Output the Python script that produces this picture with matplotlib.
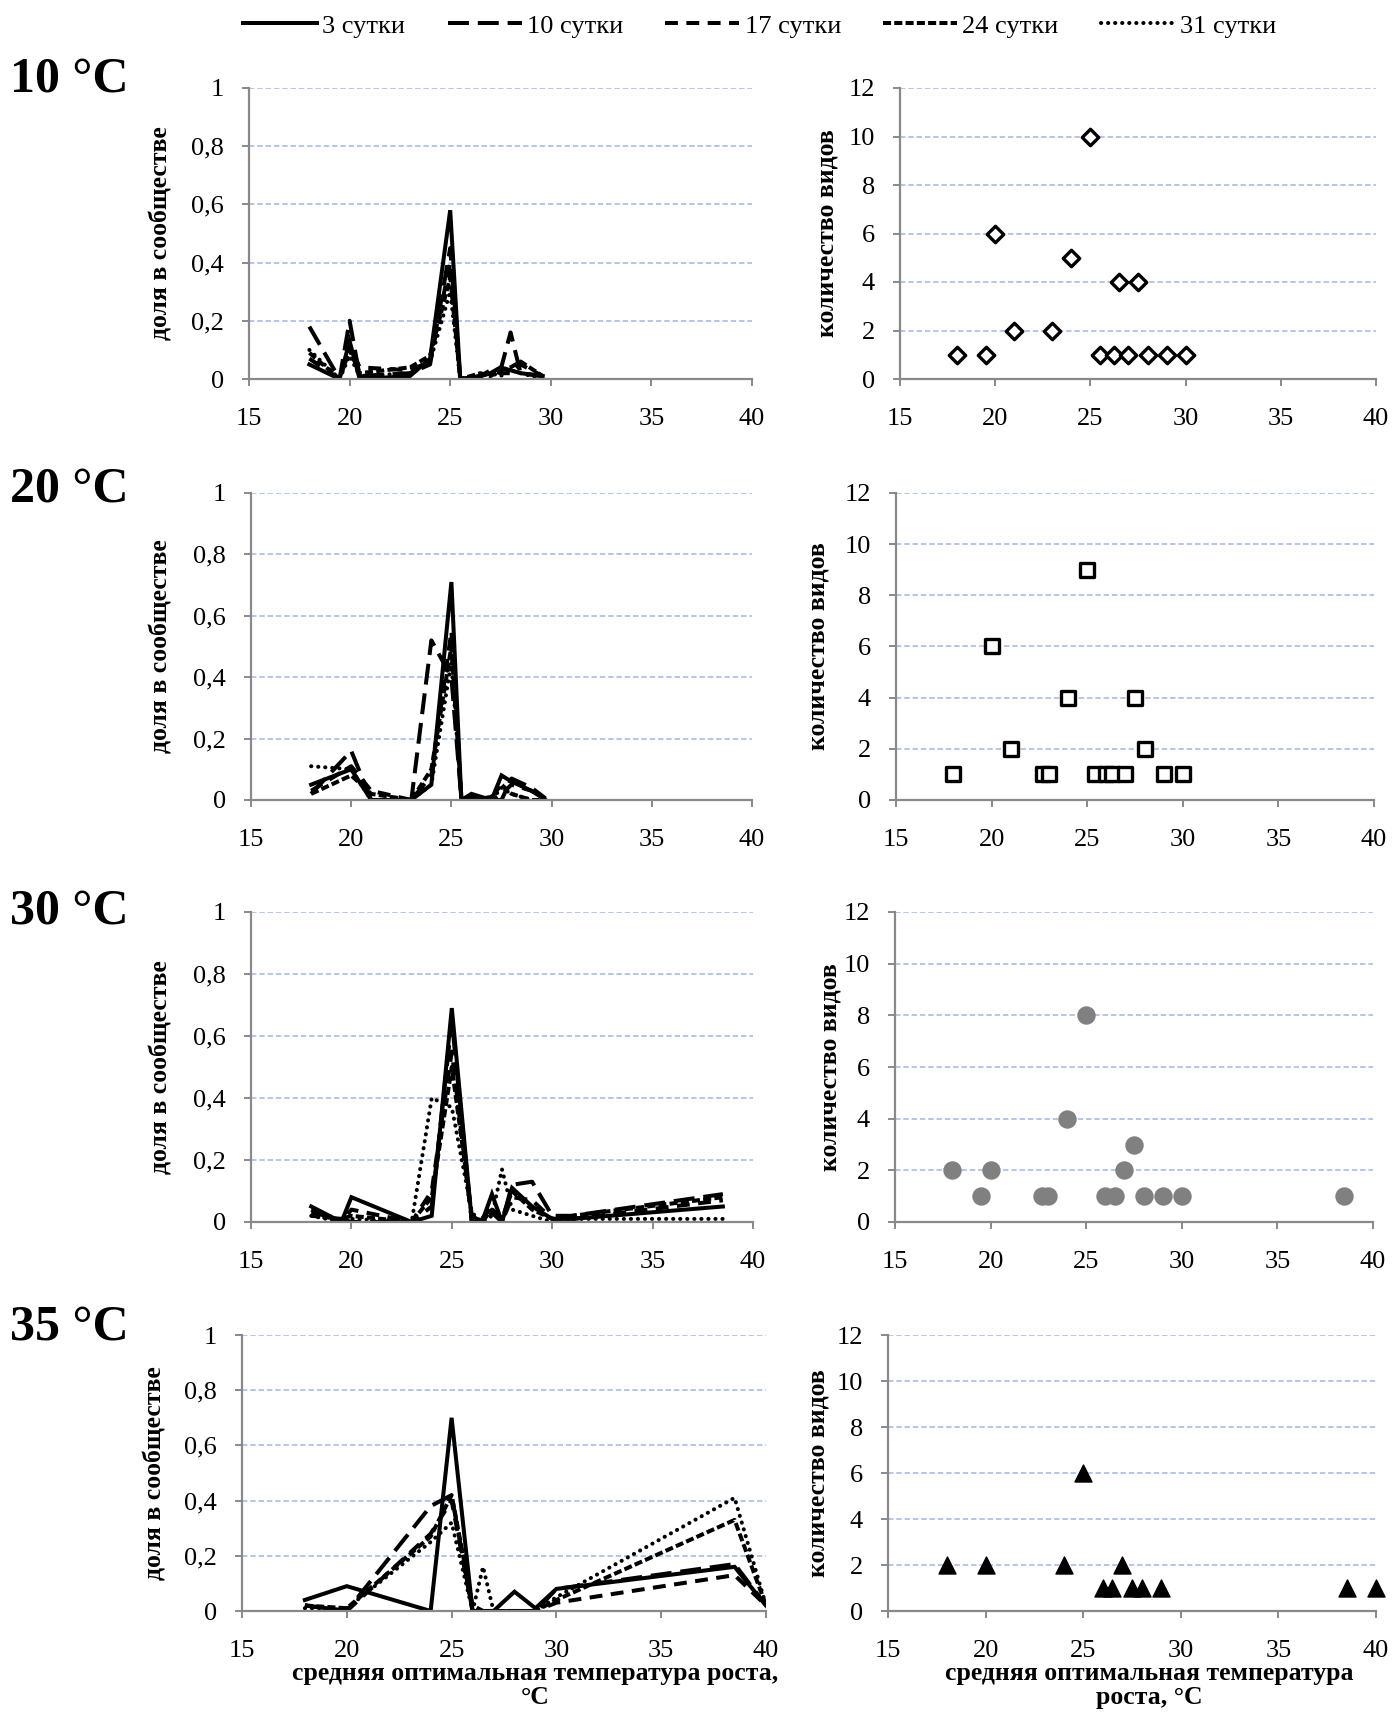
import matplotlib
matplotlib.use("Agg")
import matplotlib.pyplot as plt

plt.rcParams['font.family'] = ['Liberation Serif', 'DejaVu Serif']

# --- data -------------------------------------------------------------
series_names = ['3 сутки', '10 сутки', '17 сутки', '24 сутки', '31 сутки']
row_titles = ['10 °C', '20 °C', '30 °C', '35 °C']

# share in community (left column), x = mean optimal growth temperature
x_10 = [18, 19.5, 20, 20.5, 23, 24, 25, 25.5, 26.5, 27, 27.5, 28, 28.5, 29.6]
share_10 = [
    [0.05, 0.0, 0.13, 0.0, 0.01, 0.07, 0.58, 0.0, 0.01, 0.02, 0.04, 0.03, 0.02, 0.01],
    [0.18, 0.0, 0.20, 0.01, 0.02, 0.05, 0.45, 0.0, 0.01, 0.02, 0.03, 0.16, 0.02, 0.01],
    [0.07, 0.0, 0.12, 0.04, 0.03, 0.06, 0.40, 0.0, 0.01, 0.03, 0.02, 0.02, 0.05, 0.01],
    [0.09, 0.0, 0.10, 0.02, 0.04, 0.08, 0.35, 0.0, 0.02, 0.01, 0.03, 0.04, 0.06, 0.01],
    [0.10, 0.0, 0.08, 0.01, 0.02, 0.06, 0.30, 0.0, 0.01, 0.02, 0.01, 0.03, 0.02, 0.0],
]

x_20 = [18, 20, 21, 23, 24, 25, 25.5, 26, 27, 27.5, 28, 29, 29.7]
share_20 = [
    [0.05, 0.10, 0.0, 0.0, 0.05, 0.71, 0.0, 0.02, 0.0, 0.08, 0.06, 0.03, 0.0],
    [0.02, 0.16, 0.0, 0.0, 0.52, 0.40, 0.0, 0.0, 0.0, 0.0, 0.07, 0.04, 0.005],
    [0.03, 0.11, 0.03, 0.0, 0.08, 0.55, 0.0, 0.01, 0.0, 0.02, 0.05, 0.03, 0.0],
    [0.02, 0.08, 0.02, 0.0, 0.10, 0.50, 0.0, 0.0, 0.01, 0.05, 0.02, 0.0, 0.0],
    [0.11, 0.10, 0.0, 0.0, 0.05, 0.45, 0.0, 0.0, 0.0, 0.04, 0.02, 0.0, 0.0],
]

x_30 = [18, 19.5, 20, 23, 24, 25, 26, 26.5, 27, 27.5, 28, 29, 30, 31, 38.5]
share_30 = [
    [0.05, 0.0, 0.08, 0.0, 0.02, 0.69, 0.0, 0.0, 0.09, 0.0, 0.11, 0.05, 0.01, 0.01, 0.05],
    [0.03, 0.01, 0.0, 0.0, 0.05, 0.65, 0.0, 0.0, 0.03, 0.0, 0.12, 0.13, 0.02, 0.02, 0.09],
    [0.04, 0.0, 0.04, 0.0, 0.10, 0.55, 0.0, 0.01, 0.05, 0.0, 0.08, 0.07, 0.01, 0.01, 0.07],
    [0.02, 0.01, 0.02, 0.0, 0.08, 0.50, 0.02, 0.0, 0.04, 0.01, 0.10, 0.04, 0.01, 0.02, 0.08],
    [0.02, 0.0, 0.01, 0.0, 0.40, 0.37, 0.03, 0.0, 0.02, 0.17, 0.04, 0.02, 0.0, 0.01, 0.01],
]

x_35 = [18, 20, 24, 25, 26, 26.5, 27, 28, 29, 30, 38.5, 40]
share_35 = [
    [0.04, 0.09, 0.0, 0.70, 0.0, 0.0, 0.0, 0.07, 0.01, 0.08, 0.16, 0.02],
    [0.02, 0.0, 0.38, 0.42, 0.0, 0.0, 0.0, 0.0, 0.0, 0.08, 0.17, 0.02],
    [0.02, 0.0, 0.28, 0.40, 0.0, 0.0, 0.0, 0.0, 0.0, 0.03, 0.13, 0.02],
    [0.02, 0.01, 0.27, 0.42, 0.02, 0.0, 0.0, 0.0, 0.0, 0.04, 0.33, 0.02],
    [0.01, 0.01, 0.25, 0.32, 0.0, 0.16, 0.0, 0.0, 0.0, 0.05, 0.41, 0.02],
]

# number of species (right column)
sp_x_10 = [18, 19.5, 20, 21, 23, 24, 25, 25.5, 26.25, 26.5, 27, 27.5, 28, 29, 30]
sp_n_10 = [1, 1, 6, 2, 2, 5, 10, 1, 1, 4, 1, 4, 1, 1, 1]

sp_x_20 = [18, 20, 21, 22.7, 23, 24, 25, 25.4, 26, 26.3, 27, 27.5, 28, 29, 30]
sp_n_20 = [1, 6, 2, 1, 1, 4, 9, 1, 1, 1, 1, 4, 2, 1, 1]

sp_x_30 = [18, 19.5, 20, 22.7, 23, 24, 25, 26, 26.5, 27, 27.5, 28, 29, 30, 38.5]
sp_n_30 = [2, 1, 2, 1, 1, 4, 8, 1, 1, 2, 3, 1, 1, 1, 1]

sp_x_35 = [18, 20, 24, 25, 26, 26.5, 27, 27.5, 28, 29, 38.5, 40]
sp_n_35 = [2, 2, 2, 6, 1, 1, 2, 1, 1, 1, 1, 1]

line_x = [x_10, x_20, x_30, x_35]
line_y = [share_10, share_20, share_30, share_35]
sp_x = [sp_x_10, sp_x_20, sp_x_30, sp_x_35]
sp_n = [sp_n_10, sp_n_20, sp_n_30, sp_n_35]

# --- styling ----------------------------------------------------------
W, H = 1394, 1720
fig = plt.figure(figsize=(W / 100, H / 100), dpi=100)

# axes boxes in pixels: (x0, x1, ytop, ybottom)
left_boxes = [(249, 752, 88, 379), (251, 752, 493, 800),
              (251, 753, 912, 1222), (242, 766, 1335, 1611)]
right_boxes = [(900, 1376, 88, 379), (896, 1374, 493, 800),
               (895, 1373, 912, 1222), (888, 1376, 1335, 1611)]
# right edge of the rotated y labels, pixels
left_ylab_px = [173, 173, 173, 166]
right_ylab_px = [839, 830, 841, 830]
title_y_px = [79, 490, 912, 1327]

dash_styles = [None, (5.2, 2.2), (3.2, 2.1), (2.0, 0.8), (0.05, 1.7)]
markers = [dict(marker='D', s=70, facecolors='white', edgecolors='black', linewidths=2.4),
           dict(marker='s', s=110, facecolors='white', edgecolors='black', linewidths=2.4),
           dict(marker='o', s=150, facecolors='#808080', edgecolors='#808080', linewidths=1),
           dict(marker='^', s=150, facecolors='black', edgecolors='black', linewidths=1)]

spine_col = '#898989'
grid_col = '#adc2ea'
tick_fs = 19
lab_fs = 18.5


def make_ax(box):
    x0, x1, yt, yb = box
    return fig.add_axes([x0 / W, 1 - yb / H, (x1 - x0) / W, (yb - yt) / H])


def style_ax(ax):
    for s in ['top', 'right']:
        ax.spines[s].set_visible(False)
    for s in ['left', 'bottom']:
        ax.spines[s].set_color(spine_col)
        ax.spines[s].set_linewidth(1.6)
    ax.tick_params(direction='out', length=5, width=1.4, color=spine_col,
                   labelsize=tick_fs)
    ax.tick_params(axis='x', pad=16)
    ax.tick_params(axis='y', pad=13)
    ax.yaxis.grid(True, color=grid_col, linestyle=(0, (3, 1.6)), linewidth=1.3)
    ax.set_axisbelow(True)
    ax.set_xlim(15, 40)
    ax.set_xticks([15, 20, 25, 30, 35, 40])


handles = []
for i in range(4):
    # left: share in community
    ax = make_ax(left_boxes[i])
    style_ax(ax)
    for k, name in enumerate(series_names):
        ln, = ax.plot(line_x[i], line_y[i][k], color='black', lw=2.9,
                      label=name, solid_joinstyle='miter')
        if dash_styles[k] is not None:
            ln.set_dashes(dash_styles[k])
        if k == 4:
            ln.set_dash_capstyle('round')
        if i == 0:
            handles.append(ln)
    ax.set_ylim(0, 1)
    ax.set_yticks([0, 0.2, 0.4, 0.6, 0.8, 1])
    ax.set_yticklabels(['0', '0,2', '0,4', '0,6', '0,8', '1'])
    ax.set_ylabel('доля в сообществе', fontsize=lab_fs, fontweight='bold')
    x0 = left_boxes[i][0]
    ax.yaxis.set_label_coords((left_ylab_px[i] - x0) / (left_boxes[i][1] - x0), 0.5)

    # right: number of species
    ax2 = make_ax(right_boxes[i])
    style_ax(ax2)
    ax2.scatter(sp_x[i], sp_n[i], zorder=3, clip_on=False, **markers[i])
    ax2.set_ylim(0, 12)
    ax2.set_yticks(range(0, 13, 2))
    ax2.set_ylabel('количество видов', fontsize=lab_fs, fontweight='bold')
    rx0 = right_boxes[i][0]
    ax2.yaxis.set_label_coords((right_ylab_px[i] - rx0) / (right_boxes[i][1] - rx0), 0.5)

    fig.text(10 / W, 1 - title_y_px[i] / H, row_titles[i], fontsize=36,
             fontweight='bold', va='center', ha='left')

    if i == 3:
        ax.set_xlabel('средняя оптимальная температура роста,\n°C',
                      fontsize=lab_fs, fontweight='bold', linespacing=1.05)
        ax.xaxis.set_label_coords(0.56, -0.185)
        ax2.set_xlabel('средняя оптимальная температура\nроста, °C',
                       fontsize=lab_fs, fontweight='bold', linespacing=1.05)
        ax2.xaxis.set_label_coords(0.535, -0.185)

fig.legend(handles=handles, loc='center', bbox_to_anchor=(0.545, 1 - 26 / H),
           ncol=5, frameon=False, fontsize=19, handlelength=2.8,
           columnspacing=1.6, handletextpad=0.2)

fig.savefig('out.png', dpi=100)
